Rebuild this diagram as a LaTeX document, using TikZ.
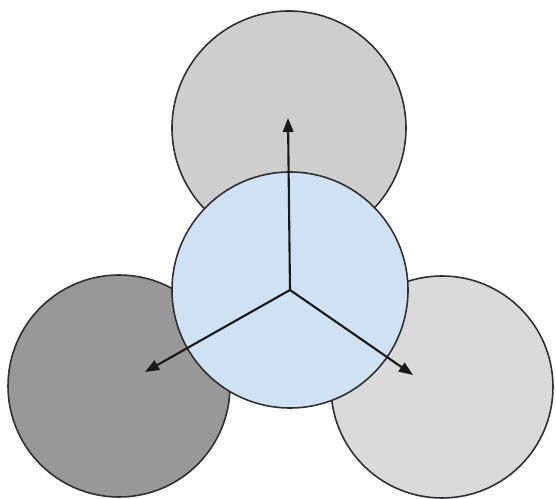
\documentclass[tikz,border=0pt]{standalone}
\usetikzlibrary{arrows.meta}

\definecolor{topgray}{RGB}{206,206,206}
\definecolor{leftgray}{RGB}{152,152,152}
\definecolor{rightgray}{RGB}{218,218,218}
\definecolor{coreblue}{RGB}{207,226,243}
\definecolor{rim}{RGB}{45,45,50}

\begin{document}
\begin{tikzpicture}[x=0.02cm, y=-0.02cm,
    ball/.style={circle, draw=rim, line width=0.9pt, inner sep=0pt},
    axis/.style={draw=black!90, line width=1.2pt, -{Triangle[length=8pt, width=6pt]}}]
  \useasboundingbox (0,0) rectangle (556,499);

  % outer balls
  \node[ball, fill=topgray,   minimum size=234*0.02cm] (top)   at (289,128) {};
  \node[ball, fill=leftgray,  minimum size=222*0.02cm] (left)  at (119,386) {};
  \node[ball, fill=rightgray, minimum size=222*0.02cm] (right) at (442,387) {};

  % central ball
  \node[ball, fill=coreblue, minimum size=236*0.02cm] (core) at (290,290) {};

  % arrow tips
  \coordinate (topTip)   at (288,118);
  \coordinate (leftTip)  at (145,372);
  \coordinate (rightTip) at (413,375);

  % axes
  \path[axis] (core.center) -- (topTip);
  \path[axis] (core.center) -- (leftTip);
  \path[axis] (core.center) -- (rightTip);
\end{tikzpicture}
\end{document}
